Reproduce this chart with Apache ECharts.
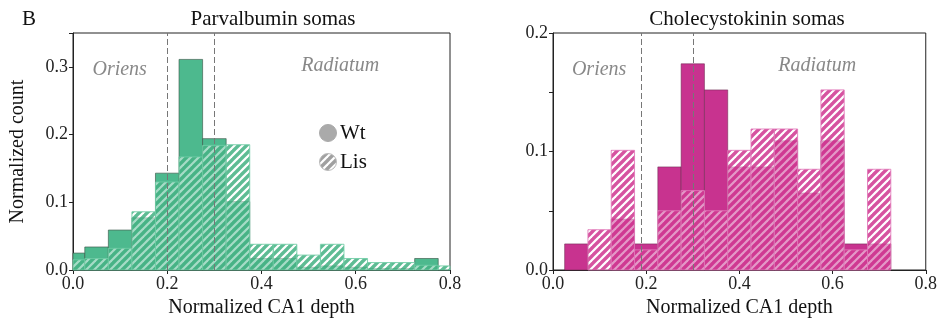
<!DOCTYPE html>
<html><head><meta charset="utf-8">
<script src="https://cdn.jsdelivr.net/npm/echarts@6/dist/echarts.min.js"></script>
<style>html,body{margin:0;padding:0;background:#fff}#c{width:940px;height:324px}</style>
</head><body><div id="c"></div>
<script>
// ---- data ----
const pvCenters = [0,0.05,0.1,0.15,0.2,0.25,0.3,0.35,0.4,0.45,0.5,0.55,0.6,0.65,0.7,0.75,0.8];
const pvWt  = [0.025,0.034,0.059,0.077,0.143,0.311,0.194,0.101,0.017,0.017,0.004,0.006,0.004,0.002,0.002,0.017,0];
const pvLis = [0.015,0.017,0.032,0.086,0.130,0.167,0.184,0.185,0.038,0.038,0.022,0.038,0.017,0.011,0.011,0.007,0.006];
const cckCenters = [0.05,0.1,0.15,0.2,0.25,0.3,0.35,0.4,0.45,0.5,0.55,0.6,0.65,0.7];
const cckWt  = [0.022,0,0.043,0.022,0.087,0.174,0.152,0.087,0.087,0.109,0.065,0.109,0.022,0.022];
const cckLis = [0,0.034,0.101,0.017,0.050,0.067,0.050,0.101,0.119,0.119,0.085,0.152,0.017,0.085];
const pvBoundaries = [0.197,0.301];
const cckBoundaries = [0.191,0.296];
const binWidth = 0.05;

function stripes(stripe, gap) {
  const s = 8, cv = document.createElement('canvas');
  cv.width = s; cv.height = s;
  const g = cv.getContext('2d');
  g.fillStyle = gap; g.fillRect(0,0,s,s);
  g.strokeStyle = stripe; g.lineWidth = 3.4;
  for (const c of [0, s, 2*s]) {
    g.beginPath(); g.moveTo(c + 2*s, -2*s); g.lineTo(c - 2*s, 2*s); g.stroke();
  }
  return {image: cv, repeat: 'repeat'};
}
const font = 'Liberation Serif';
const greenSolid = '#4db98e', magSolid = '#c8338f';
const greenHatch = stripes('rgba(40,165,112,0.75)', 'rgba(255,255,255,0.5)');
const magHatch = stripes('rgba(200,25,128,0.75)', 'rgba(255,255,255,0.5)');
const grayHatch = stripes('rgba(150,150,150,0.9)', 'rgba(255,255,255,1)');

function histSeries(idx, centers, vals, fill, stroke) {
  return {
    type: 'custom', xAxisIndex: idx, yAxisIndex: idx,
    data: centers.map((c,i)=>[c, vals[i]]),
    renderItem: (params, api) => {
      const c = api.value(0), v = api.value(1);
      if (!(v > 0)) return null;
      const x0 = Math.max(0, c - binWidth/2), x1 = Math.min(0.8, c + binWidth/2);
      const p0 = api.coord([x0, v]), p1 = api.coord([x1, 0]);
      return {type:'rect', shape:{x:p0[0], y:p0[1], width:p1[0]-p0[0], height:p1[1]-p0[1]},
        style:{fill: fill, stroke: stroke, lineWidth: 1}};
    },
    silent: true, z: 2
  };
}
function boundSeries(idx, xs) {
  return {type:'line', xAxisIndex: idx, yAxisIndex: idx, data: [], silent:true,
    markLine: {silent:true, symbol:'none', label:{show:false},
      lineStyle:{type:[6,3], color:'#777', width:1},
      data: xs.map(x=>({xAxis:x}))}, z: 3};
}
function textSeries(idx, pts) {
  return {type:'scatter', xAxisIndex: idx, yAxisIndex: idx, symbolSize: 0, silent:true,
    data: pts.map(p=>({value:[p[0],p[1]], label:{show:true, formatter:p[2], position:'inside',
      fontFamily: font, fontStyle:'italic', fontSize: 20, color:'#6a6a6a'}})), z: 4};
}
function xAxis(idx) {
  return {type:'value', gridIndex: idx, min:0, max:0.8, interval:0.2,
    name:'Normalized CA1 depth', nameLocation:'middle', nameGap: 27,
    nameTextStyle:{fontFamily:font, fontSize:20, color:'#111'},
    axisLine:{show:true, lineStyle:{color:'#222'}}, axisTick:{show:true, length:4, lineStyle:{color:'#222'}},
    splitLine:{show:false},
    axisLabel:{fontFamily:font, fontSize:18, color:'#222', margin:5, formatter:v=>v.toFixed(1)}};
}
function yAxis(idx, max, interval, name) {
  return {type:'value', gridIndex: idx, min:0, max:max, interval:interval,
    name: name, nameLocation:'middle', nameGap: 45,
    nameTextStyle:{fontFamily:font, fontSize:20, color:'#111'},
    axisLine:{show:true, lineStyle:{color:'#222'}}, axisTick:{show:true, length:4, lineStyle:{color:'#222'}},
    splitLine:{show:false},
    axisLabel:{fontFamily:font, fontSize:18, color:'#222', margin:5,
      formatter:v=>(Math.abs(v*10-Math.round(v*10))<1e-6 ? v.toFixed(1) : '')}};
}
const chart = echarts.init(document.getElementById('c'));
chart.setOption({
  animation:false, backgroundColor:'#fff',
  grid:[
    {left:73, right:490, top:33, bottom:54, show:true, borderColor:'#222', borderWidth:1},
    {left:553, right:13, top:33, bottom:54, show:true, borderColor:'#222', borderWidth:1}
  ],
  xAxis:[xAxis(0), xAxis(1)],
  yAxis:[yAxis(0, 0.35, 0.1, 'Normalized count'), yAxis(1, 0.2, 0.05, '')],
  title:[
    {text:'Parvalbumin somas', left:268, top:4, textAlign:'center', textStyle:{fontFamily:font, fontSize:21, fontWeight:'normal', color:'#111'}},
    {text:'Cholecystokinin somas', left:742, top:4, textAlign:'center', textStyle:{fontFamily:font, fontSize:21, fontWeight:'normal', color:'#111'}},
    {text:'B', left:17, top:4, textStyle:{fontFamily:font, fontSize:21, fontWeight:'normal', color:'#111'}}
  ],
  graphic:[
    {type:'circle', shape:{cx:328, cy:133, r:8.5}, style:{fill:'#aaaaaa', stroke:'#aaaaaa'}},
    {type:'text', x:340, y:133, style:{text:'Wt', fontFamily:font, fontSize:21, fill:'#111', verticalAlign:'middle'}},
    {type:'circle', shape:{cx:328, cy:162, r:8.5}, style:{fill:grayHatch, stroke:'#bbbbbb', lineWidth:1}},
    {type:'text', x:340, y:162, style:{text:'Lis', fontFamily:font, fontSize:21, fill:'#111', verticalAlign:'middle'}}
  ],
  series:[
    histSeries(0, pvCenters, pvWt, greenSolid, 'rgba(60,90,75,0.65)'),
    histSeries(0, pvCenters, pvLis, greenHatch, 'rgba(110,205,165,0.85)'),
    boundSeries(0, pvBoundaries),
    textSeries(0, [[0.099,0.295,'Oriens'],[0.567,0.301,'Radiatum']]),
    histSeries(1, cckCenters, cckWt, magSolid, 'rgba(110,40,80,0.55)'),
    histSeries(1, cckCenters, cckLis, magHatch, 'rgba(225,120,185,0.85)'),
    boundSeries(1, cckBoundaries),
    textSeries(1, [[0.099,0.169,'Oriens'],[0.567,0.172,'Radiatum']])
  ]
});
</script></body></html>
